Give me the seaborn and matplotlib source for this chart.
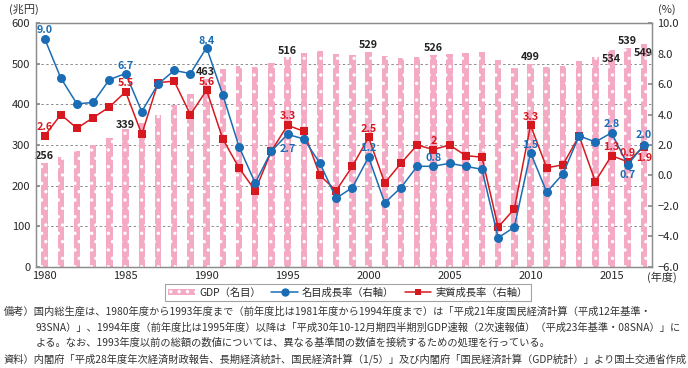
import matplotlib
matplotlib.use("Agg")
import matplotlib.pyplot as plt
import seaborn as sns
import numpy as np
import pandas as pd
from matplotlib.ticker import FixedLocator, FuncFormatter, MultipleLocator
from matplotlib.patches import Patch
from matplotlib.lines import Line2D

# ---------------- data ----------------
years = list(range(1980, 2018))
gdp = [256, 271, 284, 300, 317, 339, 354, 374, 399, 426,
       463, 487, 495, 493, 503, 516, 528, 532, 524, 522,
       529, 519, 514, 516, 521, 525, 528, 530, 509, 491,
       499, 493, 494, 507, 518, 534, 539, 549]
nominal = [9.0, 6.4, 4.7, 4.8, 6.3, 6.7, 4.2, 6.0, 6.9, 6.7,
           8.4, 5.3, 1.9, -0.5, 1.6, 2.7, 2.4, 0.8, -1.5, -0.8,
           1.2, -1.8, -0.8, 0.6, 0.6, 0.8, 0.6, 0.4, -4.1, -3.4,
           1.5, -1.1, 0.1, 2.6, 2.2, 2.8, 0.7, 2.0]
real = [2.6, 4.0, 3.1, 3.8, 4.5, 5.5, 2.7, 6.1, 6.2, 4.0,
        5.6, 2.4, 0.5, -1.0, 1.6, 3.3, 2.9, 0.0, -1.0, 0.6,
        2.5, -0.5, 0.8, 2.0, 1.7, 2.0, 1.3, 1.2, -3.4, -2.2,
        3.3, 0.5, 0.7, 2.6, -0.4, 1.3, 0.9, 1.9]

xtick_years = [1980, 1985, 1990, 1995, 2000, 2005, 2010, 2015]
left_ticks = [0, 100, 200, 300, 400, 500, 600]
right_ticks = [-6, -4, -2, 0, 2, 4, 6, 8, 10]

gdp_lbl_years = [1980, 1985, 1990, 1995, 2000, 2004, 2010, 2015, 2016, 2017]
gdp_lbl_text = ["256", "339", "463", "516", "529", "526", "499", "534", "539", "549"]
nom_lbl_years = [1980, 1985, 1990, 1995, 2000, 2004, 2010, 2015, 2016, 2017]
nom_lbl_text = ["9.0", "6.7", "8.4", "2.7", "1.2", "0.8", "1.5", "2.8", "0.7", "2.0"]
real_lbl_years = [1980, 1985, 1990, 1995, 2000, 2004, 2010, 2015, 2016, 2017]
real_lbl_text = ["2.6", "5.5", "5.6", "3.3", "2.5", "2", "3.3", "1.3", "0.9", "1.9"]

legend_labels = ["GDP（名目）", "名目成長率（右軸）", "実質成長率（右軸）"]

note_lines = [
    "備考）国内総生産は、1980年度から1993年度まで（前年度比は1981年度から1994年度まで）は「平成21年度国民経済計算（平成12年基準・",
    "93SNA）」、1994年度（前年度比は1995年度）以降は「平成30年10-12月期四半期別GDP速報（2次速報値）（平成23年基準・08SNA）」に",
    "よる。なお、1993年度以前の総額の数値については、異なる基準間の数値を接続するための処理を行っている。",
    "資料）内閣府「平成28年度年次経済財政報告、長期経済統計、国民経済計算（1/5）」及び内閣府「国民経済計算（GDP統計）」より国土交通省作成",
]

# ---------------- style ----------------
sns.set_theme(style="white")
plt.rcParams["font.family"] = ["Noto Sans CJK JP", "DejaVu Sans"]
plt.rcParams["hatch.linewidth"] = 1.2

PINK = "#F4A9C5"
BLUE = "#1A6DB5"
RED = "#D7191F"
GRAY = "#8C8C8C"

# label offsets (pixels) — layout only
gdp_off = [(0, 7), (0, 4), (-1.5, 7), (0, 6), (0, 7), (0, 7.5), (0, 7), (0, -9), (0, 7), (-1, -9)]
nom_off = [(0, 8.5), (0, 8), (0, 7), (0, -15), (0, 9), (0, 8.5), (0, 8), (0, 8.5), (0, -10), (0, 10)]
real_off = [(0, 9), (0, 8.5), (0, 8), (0, 9), (0, 8), (0, 9), (0, 8.5), (0, 9), (0, 8.5), (0, -11)]

fig = plt.figure(figsize=(6.88, 3.68), dpi=100)
W, H = 688.0, 368.0
ax = fig.add_axes([35.7 / W, 1 - 266.7 / H, (652 - 35.7) / W, (266.7 - 23.3) / H])

df = pd.DataFrame({"year": years, "gdp": gdp, "nominal": nominal, "real": real})
df["idx"] = np.arange(len(df))

sns.barplot(data=df, x="year", y="gdp", color=PINK, saturation=1, width=0.4,
            ax=ax, zorder=2)
for p in ax.patches:
    p.set_hatch("..")
    p.set_edgecolor("white")
    p.set_linewidth(0)

ax.set_xlim(-0.55, 37.5)
ax.set_ylim(0, 600)
ax.yaxis.set_major_locator(FixedLocator(left_ticks))
ax.set_xticks([years.index(y) for y in xtick_years])
ax.set_xticklabels([str(y) for y in xtick_years])
ax.xaxis.set_minor_locator(MultipleLocator(1))
ax.set_xlabel("")
ax.set_ylabel("")
ax.grid(False)
for yv in left_ticks[1:-1]:
    ax.axhline(yv, color=GRAY, lw=0.7, ls=(0, (2.5, 2.5)), zorder=1)
for s in ax.spines.values():
    s.set_color(GRAY)
    s.set_linewidth(0.9)
ax.tick_params(axis="x", which="both", direction="in", length=3, color=GRAY,
               labelsize=8, pad=3, bottom=True)
ax.tick_params(axis="y", direction="in", length=3, color=GRAY, labelsize=8, pad=4, left=True)
ax.set_zorder(1)
ax.patch.set_visible(False)

ax2 = ax.twinx()
ax2.set_zorder(2)
sns.lineplot(data=df, x="idx", y="real", ax=ax2, color=RED, marker="s", markersize=5.5,
             markeredgewidth=0, lw=1.1, zorder=3)
sns.lineplot(data=df, x="idx", y="nominal", ax=ax2, color=BLUE, marker="o", markersize=6.5,
             markeredgewidth=0, lw=1.1, zorder=4)
ax2.set_ylim(-6, 10)
ax2.set_xlim(-0.55, 37.5)
ax2.yaxis.set_major_locator(FixedLocator(right_ticks))
ax2.yaxis.set_major_formatter(FuncFormatter(lambda v, p: f"{v:.1f}".replace("-", "\u2212")))
ax2.set_xlabel("")
ax2.set_ylabel("")
ax2.grid(False)
for s in ax2.spines.values():
    s.set_color(GRAY)
    s.set_linewidth(0.9)
ax2.tick_params(axis="y", direction="in", length=3, color=GRAY, labelsize=8, pad=4, right=True)

# value labels
for yr, t, (dx, dy) in zip(gdp_lbl_years, gdp_lbl_text, gdp_off):
    i = years.index(yr)
    ax.annotate(t, xy=(i, gdp[i]), xytext=(dx, dy), textcoords="offset pixels",
                ha="center", va="center", fontsize=7.8, fontweight="bold", color="#222222",
                zorder=6, annotation_clip=False)
for yr, t, (dx, dy) in zip(real_lbl_years, real_lbl_text, real_off):
    i = years.index(yr)
    ax2.annotate(t, xy=(i, real[i]), xytext=(dx, dy), textcoords="offset pixels",
                 ha="center", va="center", fontsize=7.8, fontweight="bold", color=RED, zorder=6)
for yr, t, (dx, dy) in zip(nom_lbl_years, nom_lbl_text, nom_off):
    i = years.index(yr)
    ax2.annotate(t, xy=(i, nominal[i]), xytext=(dx, dy), textcoords="offset pixels",
                 ha="center", va="center", fontsize=7.8, fontweight="bold", color=BLUE, zorder=6)

# axis unit labels
fig.text(23.5 / W, 1 - 9.5 / H, "(兆円)", ha="center", va="center", fontsize=8, color="#333333")
fig.text(666.5 / W, 1 - 10 / H, "(%)", ha="center", va="center", fontsize=8, color="#333333")
fig.text(662 / W, 1 - 277 / H, "(年度)", ha="center", va="center", fontsize=8, color="#333333")

# legend
handles = [
    Patch(facecolor=PINK, edgecolor="white", hatch="..", lw=0),
    Line2D([0], [0], color=BLUE, marker="o", markersize=6, lw=1.1, markeredgewidth=0),
    Line2D([0], [0], color=RED, marker="s", markersize=5, lw=1.1, markeredgewidth=0),
]
leg = fig.legend(handles, legend_labels, loc="center", bbox_to_anchor=(348 / W, 1 - 292.5 / H),
                 ncol=3, frameon=True, fancybox=False, fontsize=7.4, handlelength=2.6,
                 handleheight=0.6, columnspacing=1.0, handletextpad=0.4, borderpad=0.35,
                 borderaxespad=0, edgecolor=GRAY)
leg.get_frame().set_linewidth(0.8)

# notes
note_y = [312, 327.5, 343, 359]
note_x = [4, 36, 36, 4]
for ln, yy, xx in zip(note_lines, note_y, note_x):
    fig.text(xx / W, 1 - yy / H, ln, ha="left", va="center", fontsize=7.4, color="#333333")

fig.savefig("out.png", dpi=100)
